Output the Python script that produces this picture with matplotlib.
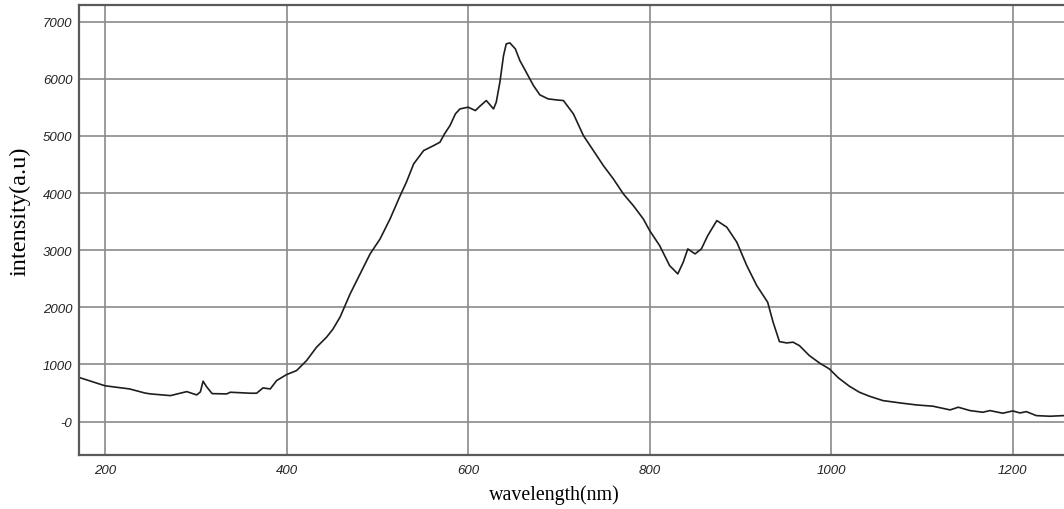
import numpy as np
import matplotlib
matplotlib.use("Agg")
import matplotlib.pyplot as plt

# spectrum (nm, a.u.)
wavelength = [171, 200, 227, 244, 250, 272, 290, 301, 305, 308, 312, 318, 334, 338,
              360, 367, 374, 382, 389, 400, 411, 422, 433, 444, 451, 459, 470, 481,
              492, 503, 514, 525, 532, 540, 551, 562, 569, 574, 580, 586, 591, 600,
              608, 613, 620, 628, 631, 635, 639, 642, 646, 652, 657, 664, 672, 679,
              688, 697, 705, 716, 727, 738, 749, 760, 771, 782, 793, 800, 811, 822,
              831, 837, 842, 850, 857, 864, 874, 885, 896, 907, 918, 930, 936, 943,
              951, 958, 965, 976, 987, 998, 1008, 1020, 1031, 1042, 1057, 1076, 1094,
              1112, 1131, 1140, 1153, 1167, 1175, 1189, 1200, 1208, 1215, 1226, 1241, 1256]
intensity = [775, 627, 572, 500, 485, 455, 525, 467, 520, 707, 607, 490, 485, 514,
             497, 497, 590, 572, 718, 823, 893, 1068, 1302, 1477, 1617, 1832, 2235, 2585,
             2935, 3197, 3547, 3950, 4190, 4510, 4743, 4830, 4890, 5035, 5180, 5385, 5472, 5502,
             5443, 5520, 5618, 5472, 5590, 5940, 6405, 6610, 6627, 6523, 6318, 6115, 5880, 5718,
             5648, 5630, 5618, 5385, 5005, 4743, 4480, 4247, 3985, 3780, 3547, 3343, 3080, 2730,
             2585, 2790, 3022, 2935, 3022, 3255, 3518, 3402, 3140, 2730, 2380, 2090, 1740, 1400,
             1377, 1390, 1330, 1155, 1027, 922, 765, 620, 515, 445, 368, 327, 292,
             270, 205, 252, 193, 164, 193, 147, 187, 152, 175, 105, 94, 105]

xticks = [200, 400, 600, 800, 1000, 1200]
yticks = [0, 1000, 2000, 3000, 4000, 5000, 6000, 7000]
ytick_labels = ["-0", "1000", "2000", "3000", "4000", "5000", "6000", "7000"]

fig = plt.figure(figsize=(10.64, 5.10), dpi=100)
ax = fig.add_axes([0.074, 0.106, 0.926, 0.883])

ax.plot(wavelength, intensity, color="#1e1e1e", lw=1.2)

ax.set_xlim(171, 1256.5)
ax.set_ylim(-583, 7297)

ax.set_xticks(xticks)
ax.set_yticks(yticks)
ax.set_yticklabels(ytick_labels)
ax.tick_params(length=0, labelsize=9.5, pad=6.5)
ax.tick_params(axis="y", pad=4.5)
for lab in ax.get_xticklabels() + ax.get_yticklabels():
    lab.set_fontfamily("Liberation Sans")
    lab.set_fontstyle("italic")
    lab.set_color("#222222")

ax.grid(True, color="#8a8a8a", lw=1.2)
ax.set_axisbelow(True)

for side in ["left", "bottom", "top"]:
    ax.spines[side].set_color("#5a5a5a")
    ax.spines[side].set_linewidth(1.6)
ax.spines["right"].set_visible(False)

ax.set_xlabel("wavelength(nm)", fontfamily="Liberation Serif", fontsize=14.4)
ax.xaxis.set_label_coords((554.5 - 78.7) / (1064 - 78.7), -(495 - 456) / 450.3, transform=ax.transAxes)
ax.xaxis.label.set_va("center")
ax.set_ylabel("intensity(a.u)", fontfamily="Liberation Serif", fontsize=17.5)
ax.yaxis.set_label_coords(-(78.7 - 20) / 985.3, (456 - 211) / 450.3, transform=ax.transAxes)
ax.yaxis.label.set_va("center")

fig.savefig("out.png", dpi=100)
